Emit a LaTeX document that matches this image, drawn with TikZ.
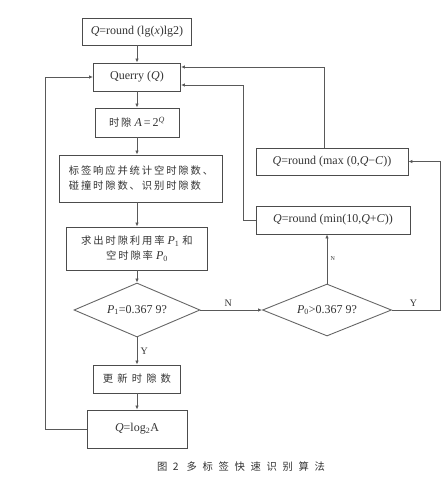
\documentclass[tikz,border=0pt]{standalone}
\usepackage{fontspec}
\setmainfont{Liberation Serif}
\newfontfamily\cjk{Noto Sans CJK SC}[LetterSpace=18,Scale=0.86]
\newfontfamily\cjkwide{Noto Sans CJK SC}[LetterSpace=40,Scale=0.86]
\newfontfamily\capfont{Noto Sans CJK SC}[LetterSpace=55,Scale=0.86]
\usetikzlibrary{shapes.geometric,arrows.meta}

\begin{document}
\begin{tikzpicture}[x=1pt, y=-1pt,
  every node/.style={text=black!80, font=\fontsize{12}{15}\selectfont},
  box/.style={draw=black!70, line width=0.9pt, inner sep=2pt},
  decision/.style={draw=black!60, line width=0.9pt, diamond, aspect=2.3, inner sep=0pt},
  arr/.style={draw=black!65, line width=0.8pt, -{Latex[length=4pt,width=3.5pt]}},
  lbl/.style={font=\fontsize{10}{12}\selectfont}]
\useasboundingbox (0,0) rectangle (447,489);
\node[box, minimum width=109pt, minimum height=27pt] (init) at (137,31.5)
  {\textit{Q}=round (lg(\textit{x})lg2)};
\node[box, minimum width=87pt, minimum height=28pt] (query) at (137,77)
  {Querry (\textit{Q})};
\node[box, minimum width=84pt, minimum height=29pt] (slot) at (137,122.5)
  {{\cjk 时隙} \textit{A}\,=\,2\textsuperscript{\textit{Q}}};
\node[box, minimum width=163pt, minimum height=47pt, align=left] (stat) at (141,178.5)
  {\cjk 标签响应并统计空时隙数、\\\cjk 碰撞时隙数、识别时隙数};
\node[box, minimum width=141pt, minimum height=43pt, align=center] (rate) at (137,248.5)
  {{\cjk 求出时隙利用率} \textit{P}\textsubscript{1} {\cjk 和}\\{\cjk 空时隙率} \textit{P}\textsubscript{0}};
\node[decision, minimum width=126pt, minimum height=54pt] (dec1) at (137,310)
  {\textit{P}\textsubscript{1}=0.367 9?};
\node[box, minimum width=87pt, minimum height=28pt] (update) at (137,379)
  {\cjkwide 更新时隙数};
\node[box, minimum width=100pt, minimum height=38pt] (qlog) at (137,429)
  {\textit{Q}=log\textsubscript{2}A};
\node[decision, minimum width=129pt, minimum height=52pt] (dec0) at (327,310)
  {\textit{P}\textsubscript{0}>0.367 9?};
\node[box, minimum width=154pt, minimum height=28pt] (minb) at (333,220)
  {\textit{Q}=round (min(10,\textit{Q}+\textit{C}))};
\node[box, minimum width=152pt, minimum height=27pt] (maxb) at (332,161.5)
  {\textit{Q}=round (max (0,\textit{Q}−\textit{C}))};
\coordinate (lcol) at (45,0);
\coordinate (rcol) at (440,0);
% main column
\draw[arr] (init) -- (query);
\draw[arr] (query) -- (slot);
\draw[arr] (slot) -- (slot |- stat.north);
\draw[arr] (stat.south -| rate) -- (rate);
\draw[arr] (rate) -- (dec1);
\draw[arr] (dec1) -- node[lbl, right] {Y} (update);
\draw[arr] (update) -- (qlog);
\draw[arr] (qlog.west) -- (qlog.west -| lcol) |- (query.west);
% right side
\draw[arr] (dec1.east) -- node[lbl, above, pos=0.45] {N} (dec0.west);
\draw[arr] (dec0.north) -- node[lbl, right, font=\fontsize{6}{7}\selectfont] {N} (dec0.north |- minb.south);
\draw[arr] (dec0.east) -- node[lbl, above, pos=0.45] {Y} (dec0.east -| rcol) |- (maxb.east);
\draw[arr] (minb.west) -- ++(-12,0) |- ([yshift=-8pt]query.east);
\draw[arr] ([xshift=-8pt]maxb.north) |- ([yshift=10pt]query.east);
\node[font=\fontsize{12}{14}\selectfont] (caption) at (241,467) {\capfont 图2 多标签快速识别算法};
\end{tikzpicture}
\end{document}
